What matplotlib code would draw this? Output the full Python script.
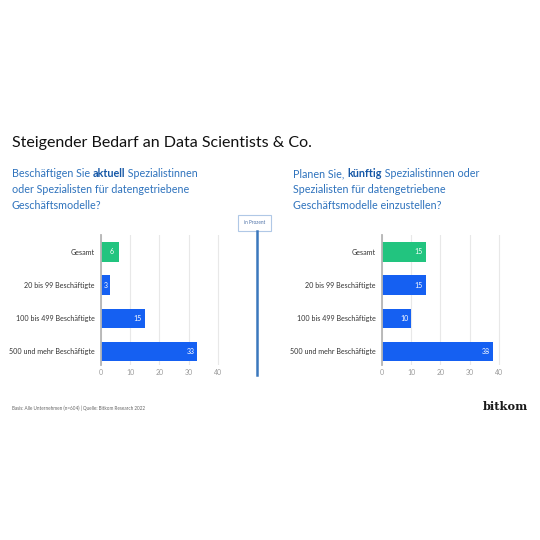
import matplotlib
matplotlib.use("Agg")
import matplotlib.pyplot as plt
from matplotlib.patches import Rectangle
from matplotlib.lines import Line2D

plt.rcParams['font.family'] = ['Open Sans', 'DejaVu Sans']

# ---- data ----
categories = ["Gesamt", "20 bis 99 Beschäftigte", "100 bis 499 Beschäftigte", "500 und mehr Beschäftigte"]
values_current = [6, 3, 15, 33]
values_future = [15, 15, 10, 38]
xticks = [0, 10, 20, 30, 40]

title = "Steigender Bedarf an Data Scientists & Co."
left_q = [[("Beschäftigen Sie ", False), ("aktuell", True), (" Spezialistinnen", False)],
          [("oder Spezialisten für datengetriebene", False)],
          [("Geschäftsmodelle?", False)]]
right_q = [[("Planen Sie, ", False), ("künftig", True), (" Spezialistinnen oder", False)],
           [("Spezialisten für datengetriebene", False)],
           [("Geschäftsmodelle einzustellen?", False)]]
unit_label = "in Prozent"
footer = "Basis: Alle Unternehmen (n=604) | Quelle: Bitkom Research 2022"
brand = "bitkom"

GREEN = "#22c47f"
BLUE = "#1560f2"
QCOL = "#2f73bd"
QBOLD = "#1557a6"
SANS = ["Lato", "DejaVu Sans"]

W = H = 540
fig = plt.figure(figsize=(5.4, 5.4), dpi=100, facecolor="white")
renderer = fig.canvas.get_renderer()


def fx(x):
    return x / W


def fy(y):
    return 1 - y / H


def fit_text(x_px, y_px, s, target_w, **kw):
    t = fig.text(fx(x_px), fy(y_px), s, fontsize=10, **kw)
    w = t.get_window_extent(renderer=renderer).width
    t.set_fontsize(10 * target_w / w)
    return t


def label_size(target_w, s, **kw):
    t = fig.text(0, 0, s, fontsize=10, **kw)
    w = t.get_window_extent(renderer=renderer).width
    t.remove()
    return 10 * target_w / w


cat_size = label_size(86, categories[-1], family=SANS)


def draw_bars(left_px, values):
    ax = fig.add_axes([fx(left_px), fy(365), 119 / W, 130 / H])
    ypos = list(range(len(categories)))
    cols = [GREEN] + [BLUE] * (len(categories) - 1)
    ax.barh(ypos, values, height=0.58, color=cols, zorder=3)
    ax.set_xlim(0, 40.7)
    ax.set_ylim(3.41, -0.51)
    ax.set_xticks(xticks)
    ax.set_xticklabels([str(t) for t in xticks], family=SANS)
    ax.set_yticks(ypos)
    ax.set_yticklabels(categories, family=SANS)
    ax.grid(axis="x", color="#e8e8e8", lw=0.8, zorder=0)
    for s in ["top", "right", "bottom"]:
        ax.spines[s].set_visible(False)
    ax.spines["left"].set_color("#b5b5b5")
    ax.spines["left"].set_linewidth(1.3)
    ax.spines["left"].set_zorder(4)
    ax.tick_params(axis="x", length=0, labelsize=5.0, labelcolor="#9a9a9a", pad=3)
    ax.tick_params(axis="y", length=0, labelsize=cat_size, labelcolor="#333333", pad=4.5)
    for y, v in zip(ypos, values):
        ax.text(v - min(2.4, v / 2), y, str(v), ha="center", va="center", color="white",
                fontsize=5.0, family=SANS, zorder=5)
    ax.set_facecolor("none")
    return ax


draw_bars(101, values_current)
draw_bars(382, values_future)

fit_text(12, 147, title, 301, color="#111111", va="baseline", ha="left", family=SANS)


def draw_rich(x_px, y_px, lines, target_w, spacing=16.0):
    # determine size from first line width
    total = 0
    for txt, bold in lines[0]:
        t = fig.text(0, 0, txt, fontsize=10, family=SANS,
                     fontweight="bold" if bold else "normal")
        total += t.get_window_extent(renderer=renderer).width
        t.remove()
    size = 10 * target_w / total
    for i, segs in enumerate(lines):
        x = x_px
        y = y_px + i * spacing
        for txt, bold in segs:
            t = fig.text(fx(x), fy(y), txt, fontsize=size, va="baseline", ha="left",
                         color=QBOLD if bold else QCOL, family=SANS,
                         fontweight="bold" if bold else "normal")
            x += t.get_window_extent(renderer=renderer).width


draw_rich(12, 177, left_q, 186)
draw_rich(293, 177, right_q, 185)

# center divider and unit box
fig.add_artist(Line2D([fx(257), fx(257)], [fy(231), fy(375)], color="#3b78bd", lw=1.8))
fig.add_artist(Rectangle((fx(238), fy(231)), 33 / W, 16 / H, facecolor="white",
                         edgecolor="#b0c8e6", lw=0.8))
fig.text(fx(254.5), fy(223), unit_label, fontsize=3.4, color="#4f72a8", ha="center",
         va="center", family=SANS)

fit_text(12, 408, footer, 134, color="#666666", ha="left", va="center", family=SANS)
fit_text(483, 406, brand, 45, color="#1a1a1a", ha="left", va="center",
         family=["DejaVu Serif"], fontweight="bold")

fig.savefig("out.png", dpi=100, facecolor="white")
